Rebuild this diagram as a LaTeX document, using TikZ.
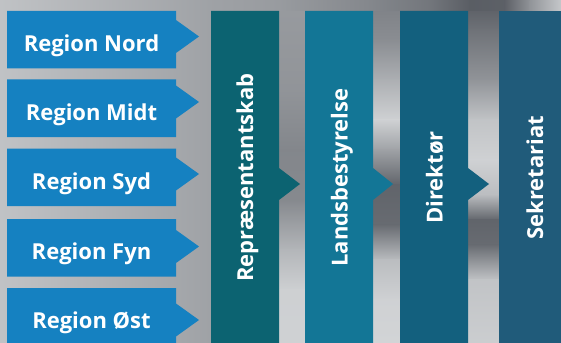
\documentclass[tikz,border=0pt]{standalone}
\usepackage{fontspec}
\setmainfont{Open Sans}
\definecolor{bgL}{HTML}{D6D8DA}
\definecolor{bgD}{HTML}{4C5057}
\definecolor{regblue}{HTML}{1581C1}
\definecolor{colA}{HTML}{0C6371}
\definecolor{colB}{HTML}{137696}
\definecolor{colC}{HTML}{13607E}
\definecolor{colD}{HTML}{205B7A}
\tikzset{
  lbl/.style={font=\fontsize{22}{26}\selectfont\bfseries, text=white, inner sep=0pt},
  reglbl/.style={lbl, anchor=base},
  collbl/.style={lbl, anchor=base, rotate=90},
}
\begin{document}
\begin{tikzpicture}[x=1pt,y=-1pt]
\useasboundingbox (0,0) rectangle (561,342);
\clip (0,0) rectangle (561,342);
% ---------- background ----------
\shade[left color=bgD!16!bgL, right color=bgD!40!bgL] (0,0) rectangle (212,342);
\foreach \ya/\pa/\yb/\pb in {0/45/90/50, 90/50/150/60, 150/60/200/58, 200/58/250/25, 250/25/290/6, 290/6/342/5}
  \shade[top color=bgD!\pa!bgL, bottom color=bgD!\pb!bgL] (276,\ya-0.5) rectangle (307,\yb+0.5);
\foreach \ya/\pa/\yb/\pb in {0/65/40/55, 40/55/80/30, 80/30/120/5, 120/5/150/40, 150/40/185/85, 185/85/225/80, 225/80/260/20, 260/20/300/5, 300/5/342/3}
  \shade[top color=bgD!\pa!bgL, bottom color=bgD!\pb!bgL] (370,\ya-0.5) rectangle (402,\yb+0.5);
\foreach \ya/\pa/\yb/\pb in {0/92/30/75, 30/75/80/50, 80/50/120/15, 120/15/160/5, 160/5/195/20, 195/20/220/85, 220/85/245/80, 245/80/280/15, 280/15/342/8}
  \shade[top color=bgD!\pa!bgL, bottom color=bgD!\pb!bgL] (465,\ya-0.5) rectangle (501,\yb+0.5);
\foreach \xa/\pa/\xb/\pb in {211/40/280/45, 280/45/373/60, 373/60/430/72, 430/72/470/90, 470/90/505/88, 505/88/530/50, 530/50/561/12}
  \shade[left color=bgD!\pa!bgL, right color=bgD!\pb!bgL] (\xa-0.5,0) rectangle (\xb+0.5,11);
% ---------- columns ----------
\fill[colA] (211,11) -- (279,11) -- (279,168) -- (300,184) -- (279,200) -- (279,345) -- (211,345) -- cycle;
\fill[colB] (305,11) -- (373,11) -- (373,168) -- (393,184) -- (373,200) -- (373,345) -- (305,345) -- cycle;
\fill[colC] (400,11) -- (468,11) -- (468,168) -- (489,184) -- (468,200) -- (468,345) -- (400,345) -- cycle;
\fill[colD] (499,11) rectangle (575,345);
\node[collbl] (repr) at (253,177.5) {Repræsentantskab};
\node[collbl] (lands) at (347.5,177.5) {Landsbestyrelse};
\node[collbl] (dir) at (442.5,177.5) {Direktør};
\node[collbl] (sekr) at (543,177.5) {Sekretariat};
% ---------- regions ----------
\foreach \t/\c/\nm/\txt in {11/36.5/nord/Region Nord, 79.5/102/midt/Region Midt, 148.5/174/syd/Region Syd, 219/246.5/fyn/Region Fyn, 288/320/ost/Region Øst}{
  \fill[regblue] (7,\t) -- (176,\t) -- (176,\c-16.5) -- (199,\c) -- (176,\c+16.5) -- (176,\t+57.5) -- (7,\t+57.5) -- cycle;
  \node[reglbl] (\nm) at (91.5,\t+40.5) {\txt};
}
\end{tikzpicture}
\end{document}
